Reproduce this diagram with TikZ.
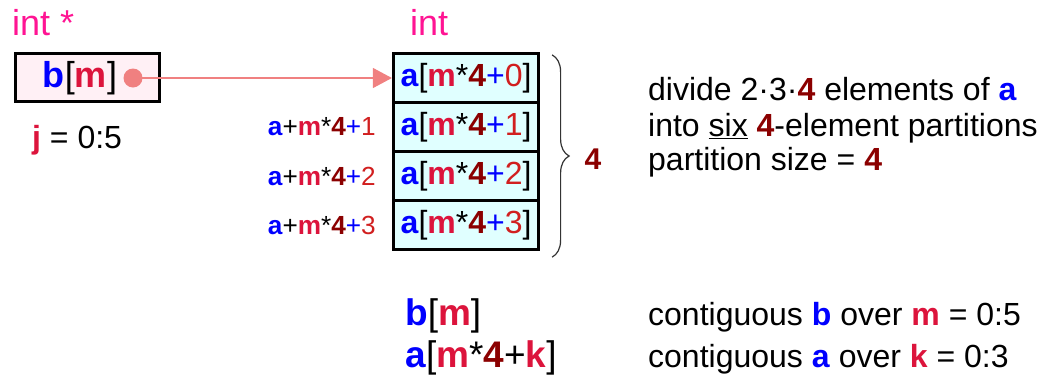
\documentclass[tikz,border=0pt]{standalone}
\usepackage{fontspec}
\setmainfont{Liberation Sans}
\usetikzlibrary{arrows.meta}
\usetikzlibrary{decorations.pathreplacing}
\definecolor{intpink}{rgb}{1.0,0.0784,0.5765}
\definecolor{idxblue}{rgb}{0,0,1}
\definecolor{crimson}{rgb}{0.8627,0.0784,0.2353}
\definecolor{darkred}{rgb}{0.545,0,0}
\definecolor{digitred}{rgb}{0.82,0.12,0.12}
\definecolor{ptrfill}{rgb}{1.0,0.9412,0.9608}
\definecolor{cellfill}{rgb}{0.8784,1.0,1.0}
\definecolor{lightcoral}{rgb}{0.9412,0.502,0.502}
\definecolor{bracegray}{rgb}{0.2,0.2,0.2}
\newcommand{\varA}{\textcolor{idxblue}{\textbf{a}}}
\newcommand{\varB}{\textcolor{idxblue}{\textbf{b}}}
\newcommand{\varM}{\textcolor{crimson}{\textbf{m}}}
\newcommand{\varK}{\textcolor{crimson}{\textbf{k}}}
\newcommand{\varJ}{\textcolor{crimson}{\textbf{j}}}
\newcommand{\numF}{\textcolor{darkred}{\textbf{4}}}
\tikzset{
  ptrbox/.style={draw=black,line width=3.2pt,fill=ptrfill,minimum width=144pt,minimum height=48pt,inner sep=0pt},
  cellbox/.style={draw=black,line width=3.2pt,fill=cellfill,minimum width=145pt,minimum height=49pt,inner sep=0pt,font=\fontsize{32}{36}\selectfont},
  addrlbl/.style={anchor=east,inner sep=0pt,font=\fontsize{26.2}{29}\selectfont},
  typelbl/.style={anchor=base west,inner sep=0pt,text=intpink,font=\fontsize{36}{40}\selectfont},
  desclbl/.style={anchor=base west,inner sep=0pt,font=\fontsize{32}{36}\selectfont},
  biglbl/.style={anchor=base west,inner sep=0pt,font=\fontsize{37}{40}\selectfont},
  ptrarrow/.style={draw=lightcoral,line width=1.2pt,-{Triangle[length=19pt,width=20pt]}},
}
\begin{document}
\begin{tikzpicture}[x=1pt,y=-1pt]
\useasboundingbox (0,0) rectangle (1053,378);
% pointer b
\node[typelbl] (ptrtype) at (12,35) {int *};
\node[ptrbox] (bptr) at (87.5,77.5) {};
\node[inner sep=0pt,font=\fontsize{36}{40}\selectfont] (bname) at (80,78) {\varB[\varM]};
\node[desclbl] (jrange) at (32,148) {\varJ\ = 0:5};
\coordinate (bdot) at (133,78);
% array a
\node[typelbl] (celltype) at (410,35) {int};
\foreach \k in {0,1,2,3}
  \node[cellbox] (a\k) at (466,{78+49*\k}) {\varA[\varM*\numF\textcolor{idxblue}{+}\textcolor{digitred}{\k}]};
\foreach \k in {1,2,3}
  \node[addrlbl] (addr\k) at (376,{78+49*\k}) {\varA+\varM*\numF\textcolor{idxblue}{+}\textcolor{digitred}{\k}};
\draw[ptrarrow] (bdot) -- (a0.west);
\fill[lightcoral] (bdot) circle (9.5pt);
\draw[bracegray,line width=1.2pt,decorate,decoration={brace,amplitude=17pt}] (a0.north east) ++(12,3) coordinate (btop) -- ([xshift=12pt,yshift=-6pt]a3.south east) coordinate (bbot);
\node[inner sep=0pt,text=darkred,font=\bfseries\fontsize{30}{34}\selectfont] (psize) at (593,159) {4};
% description
\node[desclbl] (desc1) at (648,100) {divide 2·3·\numF\ elements of \varA};
\node[desclbl] (desc2) at (648,136) {into \underline{six} \numF-element partitions};
\node[desclbl] (desc3) at (648,170) {partition size = \numF};
% summary
\node[biglbl] (sumb) at (405,325) {\varB[\varM]};
\node[biglbl] (suma) at (405,367) {\varA[\varM*\numF+\varK]};
\node[desclbl] (sumbtxt) at (648,325) {contiguous \varB\ over \varM\ = 0:5};
\node[desclbl] (sumatxt) at (648,367) {contiguous \varA\ over \varK\ = 0:3};
\end{tikzpicture}
\end{document}
